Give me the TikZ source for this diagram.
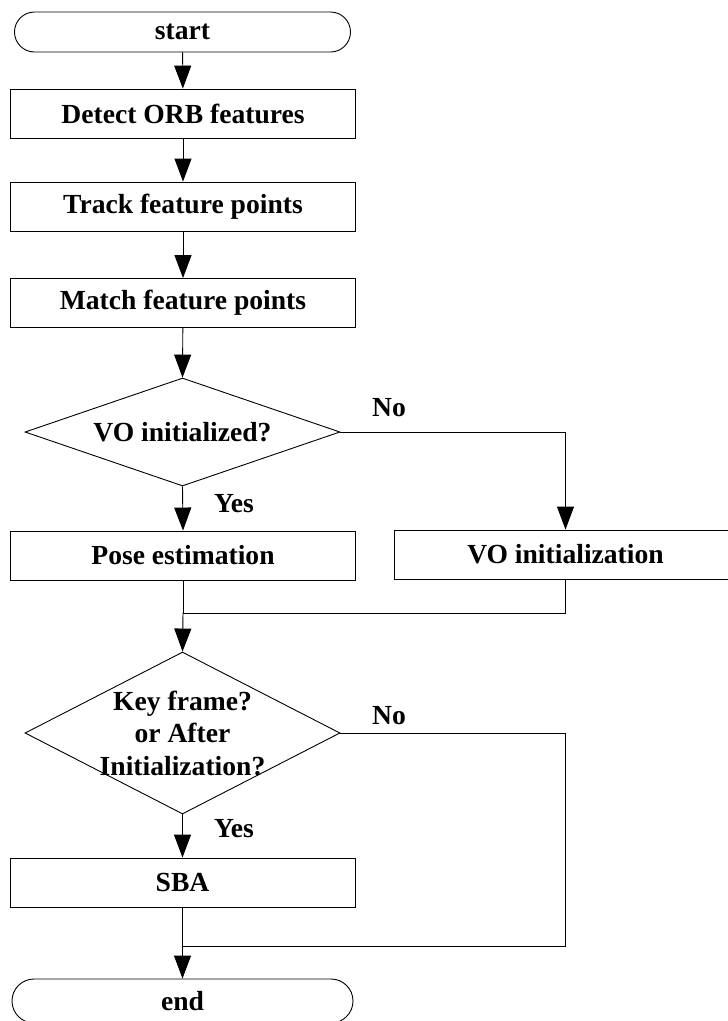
\documentclass[tikz,border=0pt]{standalone}
\usepackage{fontspec}
\setmainfont{Liberation Serif}
\usetikzlibrary{shapes.geometric,shapes.misc,arrows.meta}

\begin{document}
\begin{tikzpicture}[x=1pt,y=-1pt,
  every node/.style={font=\fontsize{27.6}{33}\selectfont\bfseries, inner sep=0pt},
  procbox/.style={draw, line width=0.9pt, rectangle, minimum width=345, minimum height=49},
  terminal/.style={draw, line width=0.9pt, rounded rectangle, minimum width=336, minimum height=40},
  decision/.style={draw, line width=0.9pt, diamond, minimum width=315},
  lbl/.style={},
  flow/.style={line width=0.9pt, -{Triangle[width=17pt,length=23pt]}},
  link/.style={line width=0.9pt}]
\useasboundingbox (0,0) rectangle (728,1021);

% main column
\node[terminal] (start) at (182.5,32) {start};
\node[procbox] (detect) at (183,113.5) {Detect ORB features};
\node[procbox] (track) at (183,206.5) {Track feature points};
\node[procbox] (match) at (183,303) {Match feature points};
\node[decision, minimum height=108] (d1) at (182.5,432) {};
\node (d1txt) at (d1.center) {VO initialized?};
\node[procbox] (pose) at (183,555.5) {Pose estimation};
\node[procbox, minimum width=343] (voinit) at (565.5,554.5) {VO initialization};
\node[decision, minimum height=162] (d2) at (182.5,733) {};
\node[align=center, font=\fontsize{27.6}{32.5}\selectfont\bfseries] (d2txt) at (d2.center)
  {Key frame?\\or After\\Initialization?};
\node[procbox] (sba) at (182.5,882.5) {SBA};
\node[terminal, minimum width=341, minimum height=44] (end) at (182.5,1001) {end};

% merge points
\coordinate (j1) at (183,613);
\coordinate (j2) at (183,946);

% connectors
\draw[flow] (start) -- (detect);
\draw[flow] (detect) -- (track);
\draw[flow] (track) -- (match);
\draw[flow] (match) -- (d1.north);
\draw[flow] (d1.south) -- (pose.north);
\draw[flow] (d1.east) -| (voinit.north);
\draw[link] (pose.south) -- (j1);
\draw[link] (voinit.south) |- (j1);
\draw[flow] (j1) -- (d2.north);
\draw[flow] (d2.south) -- (sba.north);
\draw[link] (d2.east) -| (voinit.center |- j2) -- (j2);
\draw[flow] (sba.south) -- (end.north);

% branch labels
\node[lbl] (no1) at (389,408) {No};
\node[lbl] (yes1) at (234,504) {Yes};
\node[lbl] (no2) at (389,716) {No};
\node[lbl] (yes2) at (234,829) {Yes};
\end{tikzpicture}
\end{document}
